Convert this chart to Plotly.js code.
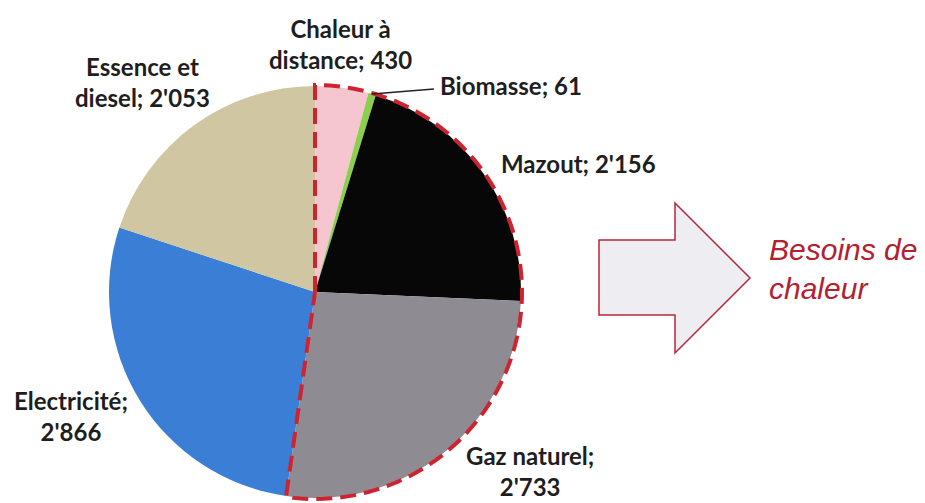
<!DOCTYPE html>
<html>
<head>
<meta charset="utf-8">
<script src="https://cdn.plot.ly/plotly-3.0.1.min.js"></script>
<style>html,body{margin:0;padding:0;background:#fff;}#chart{width:925px;height:503px;}</style>
</head>
<body>
<div id="chart"></div>
<script>
// ---- data ----
const categories = ['Chaleur à distance', 'Biomasse', 'Mazout', 'Gaz naturel', 'Electricité', 'Essence et diesel'];
const values = [430, 61, 2156, 2733, 2866, 2053];
const heatCategories = ['Chaleur à distance', 'Biomasse', 'Mazout', 'Gaz naturel'];
const heatLabel = ['Besoins de', 'chaleur'];

// ---- style ----
const W = 925, H = 503;
const sliceColors = ['#f5c6cf', '#8ccf4f', '#070707', '#8f8b93', '#3b7ed6', '#d0c6a2'];
const CX = 315, CY = 292, R = 206;
const labelFont = {family: 'Lato, "Open Sans", sans-serif', size: 24, color: '#1e1e1e', weight: 'bold'};
// label layout: line split (words on first line) and pixel anchor of each label
const labelLayout = {
  'Chaleur à distance': {split: 2, x: 340, y: 44},
  'Biomasse': {split: 99, x: 439, y: 85, anchor: 'left'},
  'Mazout': {split: 99, x: 500, y: 164, anchor: 'left'},
  'Gaz naturel': {split: 99, x: 530, y: 502, yanchor: 'bottom', lineBreakAfterName: true},
  'Electricité': {split: 99, x: 71, y: 416, lineBreakAfterName: true},
  'Essence et diesel': {split: 2, x: 142, y: 82}
};

function px(x) { return x / W; }
function py(y) { return 1 - y / H; }
function fmt(v) {
  const s = String(v);
  return s.length > 3 ? s.slice(0, s.length - 3) + "'" + s.slice(-3) : s;
}

const annotations = [];
categories.forEach((c, i) => {
  const L = labelLayout[c];
  const full = c + '; ' + fmt(values[i]);
  let lines;
  if (L.lineBreakAfterName) lines = [c + ';', fmt(values[i])];
  else {
    const words = full.split(' ');
    lines = L.split >= words.length ? [full] : [words.slice(0, L.split).join(' '), words.slice(L.split).join(' ')];
  }
  annotations.push({
    xref: 'paper', yref: 'paper', x: px(L.x), y: py(L.y),
    xanchor: L.anchor || 'center', yanchor: L.yanchor || 'middle', borderpad: 0,
    align: L.anchor || 'center',
    text: lines.join('<br>'), showarrow: false, font: labelFont
  });
});
annotations.push({
  xref: 'paper', yref: 'paper', x: px(767), y: py(269),
  xanchor: 'left', yanchor: 'middle', align: 'left', text: heatLabel.join('<br>'), showarrow: false,
  font: {family: '"Liberation Sans", Arial, sans-serif', size: 30, color: '#b3202f', style: 'italic'}
});

// block arrow
const arrowPts = [[599, 240], [675, 240], [675, 203], [750, 278], [675, 353], [675, 315], [599, 315]];
const arrowPath = 'M' + arrowPts.map(p => px(p[0]).toFixed(5) + ',' + py(p[1]).toFixed(5)).join(' L') + ' Z';

const trace = {
  type: 'pie',
  labels: categories,
  values: values,
  sort: false,
  direction: 'clockwise',
  rotation: 0,
  textinfo: 'none',
  hoverinfo: 'label+value',
  marker: {colors: sliceColors, line: {width: 0}},
  domain: {x: [px(CX - R), px(CX + R)], y: [py(CY + R), py(CY - R)]},
  showlegend: false
};

const layout = {
  width: W, height: H,
  margin: {l: 0, r: 0, t: 0, b: 0},
  paper_bgcolor: '#ffffff',
  showlegend: false,
  annotations: annotations,
  shapes: [{type: 'path', xref: 'paper', yref: 'paper', path: arrowPath,
            fillcolor: '#eeeef2', line: {color: '#b5283a', width: 1.5}}]
};

const gd = document.getElementById('chart');
Plotly.newPlot(gd, [trace], layout, {displayModeBar: false, staticPlot: true}).then(() => {
  let cx = CX, cy = CY, r = R;
  try {
    const cd0 = gd.calcdata[0][0];
    if (cd0 && isFinite(cd0.r)) { cx = cd0.cx; cy = cd0.cy; r = cd0.r; }
  } catch (e) {}
  const total = values.reduce((a, b) => a + b, 0);
  const cum = [];
  let acc = 0;
  values.forEach(v => { cum.push(acc); acc += v; });
  const ang = f => f / total * 2 * Math.PI;
  const pt = (a, rr) => [cx + rr * Math.sin(a), cy - rr * Math.cos(a)];
  // heat group extent
  const idx = heatCategories.map(c => categories.indexOf(c));
  const a0 = ang(cum[Math.min(...idx)]);
  const lastI = Math.max(...idx);
  const a1 = ang(cum[lastI] + values[lastI]);
  const rr = r + 1;
  const pts = [[cx, cy]];
  const n = 90;
  for (let k = 0; k <= n; k++) pts.push(pt(a0 + (a1 - a0) * k / n, rr));
  pts.push([cx, cy]);
  const dashPath = 'M' + pts.map(p => px(p[0]).toFixed(5) + ',' + py(p[1]).toFixed(5)).join(' L');
  // biomass leader line
  const bi = categories.indexOf('Biomasse');
  const bm = ang(cum[bi] + values[bi] / 2);
  const s = pt(bm, r);
  const shapes = layout.shapes.concat([
    {type: 'path', xref: 'paper', yref: 'paper', path: dashPath,
     line: {color: '#cc2530', width: 4, dash: '16px,8px'}},
    {type: 'line', xref: 'paper', yref: 'paper', x0: px(s[0]), y0: py(s[1]),
     x1: px(434), y1: py(89), line: {color: '#222222', width: 1.5}}
  ]);
  Plotly.relayout(gd, {shapes: shapes});
});
</script>
</body>
</html>
